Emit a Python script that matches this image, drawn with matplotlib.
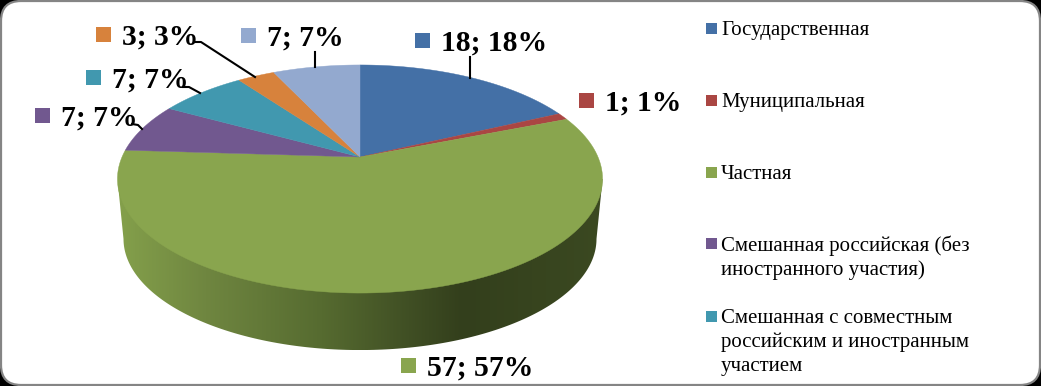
import matplotlib
matplotlib.use("Agg")
import matplotlib.pyplot as plt
import numpy as np
from matplotlib.colors import LinearSegmentedColormap
from matplotlib.patches import FancyBboxPatch, Polygon, Rectangle

plt.rcParams["font.family"] = ["Liberation Serif", "DejaVu Serif"]

# slices, clockwise from the top
values = [18, 1, 57, 7, 7, 3, 7]
percents = ["18%", "1%", "57%", "7%", "7%", "3%", "7%"]
colors = ["#4470a6", "#aa4643", "#89a54e", "#71588f", "#4198af", "#d7823c", "#93a9cf"]

# only five of the entries fit in the picture
legend_labels = [
    "Государственная",
    "Муниципальная",
    "Частная",
    "Смешанная российская (без\nиностранного участия)",
    "Смешанная с совместным\nроссийским и иностранным\nучастием",
]

# label anchor (left of square, centre of square) in pixels
label_pos = [(415, 40), (579, 100), (401, 365), (35, 115), (86, 77), (96, 34), (241, 35)]
leaders = [
    [(470, 57), (470, 78)],
    None,
    None,
    [(132, 124), (138, 125), (142, 129)],
    [(183, 87), (189, 87), (200, 93)],
    [(195, 42), (201, 42), (255, 77)],
    [(315, 52), (315, 67)],
]
legend_y = [28, 100, 172, 243.5, 316]

CX, CY = 360, 157
A, B, K = 238, 109.8, 0.193


def project(theta, scale=1.0, drop=0.0):
    """Perspective view of the pie disc, theta clockwise from the top."""
    x, y = np.sin(theta), np.cos(theta)
    w = 1 + K * y
    return np.column_stack([CX + scale * A * x / w, CY + drop - scale * B * y / w])


fig = plt.figure(figsize=(10.41, 3.86), dpi=100, facecolor="black")
ax = fig.add_axes([0, 0, 1, 1])
ax.axis("off")

frame = FancyBboxPatch((1, 1), 1039, 384, boxstyle="round,pad=0,rounding_size=20",
                       fc="white", ec="#858585", lw=1.6)
ax.add_patch(frame)

# side wall with its horizontal shading
edge = np.arccos(-K)
front = project(np.linspace(edge, 2 * np.pi - edge, 200), 0.975, 60.4)
outline = np.vstack([project(np.array([edge])), front, project(np.array([2 * np.pi - edge]))])
wall = Polygon(outline, closed=True, fc="none", ec="none")
ax.add_patch(wall)
shade = LinearSegmentedColormap.from_list(
    "wall",
    [(0.0, "#84a04b"), (0.18, "#6f8640"), (0.42, "#566b30"), (0.6, "#404f24"),
     (0.71, "#333f1c"), (1.0, "#3b4921")],
)
img = ax.imshow(np.linspace(0, 1, 256)[None, :], extent=(118, 603, 350, 170),
                cmap=shade, aspect="auto", zorder=1)
img.set_clip_path(wall)

# top face
fractions = np.cumsum([0] + values) / sum(values)
for i, color in enumerate(colors):
    theta = np.linspace(fractions[i], fractions[i + 1], 120) * 2 * np.pi
    pts = np.vstack([[CX, CY], project(theta)])
    ax.add_patch(Polygon(pts, closed=True, fc=color, ec=color, lw=0.3, zorder=2))

# data labels
for value, pct, color, (x, y), leader in zip(values, percents, colors, label_pos, leaders):
    ax.add_patch(Rectangle((x, y - 7.5), 15, 15, fc=color, ec="none", zorder=3))
    ax.text(x + 26, y + 11, f"{value}; {pct}", fontsize=21.3, fontweight="bold",
            ha="left", va="baseline", color="black", zorder=4)
    if leader:
        ax.plot(*zip(*leader), color="black", lw=1.5, zorder=3)

# legend, one text per line so the baselines can be placed
for label, color, y in zip(legend_labels, colors, legend_y):
    ax.add_patch(Rectangle((706, y - 5.5), 11, 11, fc=color, ec="none", zorder=3))
    for n, line in enumerate(label.split("\n")):
        ax.text(721, y + 7 + 24 * n, line, fontsize=15, ha="left", va="baseline",
                color="black", zorder=4)

ax.set_xlim(0, 1041)
ax.set_ylim(386, 0)
fig.savefig("out.png", dpi=100, facecolor="black")
